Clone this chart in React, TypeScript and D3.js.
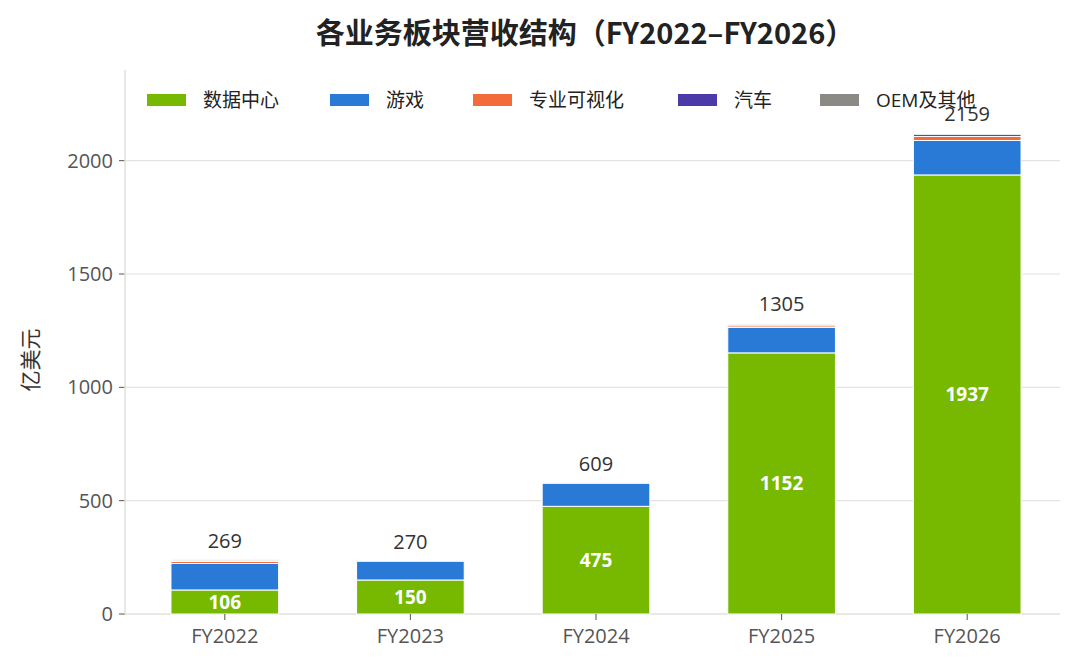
import * as d3 from "d3";

const years = ["FY2022", "FY2023", "FY2024", "FY2025", "FY2026"];
const seriesNames = ["数据中心", "游戏", "专业可视化", "汽车", "OEM及其他"];
const colors = ["#76b900", "#2979d6", "#f26b38", "#4b3aa8", "#8c8a84"];
const dataCenter = [106, 150, 475, 1152, 1937];
const gaming = [117, 84, 103, 113, 152];
const proViz = [9, 0.5, 0.5, 7, 18];
const auto = [2, 0.5, 0.5, 6, 10];
const oem = [5, 0.5, 0.5, 4, 3];
const totals = [269, 270, 609, 1305, 2159];
const yTicks = [0, 500, 1000, 1500, 2000];
const legendX = [147, 330, 473, 678, 820];

const F = "'Open Sans', 'Noto Sans CJK SC', sans-serif";

export default function App() {
  const W = 1080, H = 672;
  const x = d3.scaleBand().domain(years).range([132, 1060]).paddingInner(0.42).paddingOuter(0.21);
  const y = d3.scaleLinear().domain([0, 2400]).range([614, 70]);
  const rows = years.map((yr, i) => ({ yr, v: [dataCenter[i], gaming[i], proViz[i], auto[i], oem[i]] }));
  const stack = d3.stack<any>().keys([0, 1, 2, 3, 4].map(String)).value((d, k) => d.v[+k]);
  const layers = stack(rows);
  return (
    <svg width={W} height={H} style={{ position: "absolute", left: 0, top: 0 }} fontFamily={F}>
      <rect width={W} height={H} fill="#fff" />
      <text x={585} y={44} textAnchor="middle" fontSize={29} fontWeight="bold" fill="#222"
        fontFamily="'Noto Sans CJK SC', sans-serif">
        各业务板块营收结构（FY2022–FY2026）
      </text>
      {yTicks.map((t) => (
        <g key={t}>
          {t > 0 && <line x1={125} x2={1060} y1={y(t)} y2={y(t)} stroke="#e3e3e0" strokeWidth={1.2} />}
          <line x1={119} x2={125} y1={y(t)} y2={y(t)} stroke="#555" />
          <text x={113} y={y(t)} dy="0.35em" textAnchor="end" fontSize={20} fill="#555">{t}</text>
        </g>
      ))}
      <line x1={125} x2={125} y1={70} y2={614} stroke="#e0e0dc" strokeWidth={1.5} />
      <line x1={125} x2={1060} y1={614} y2={614} stroke="#e0e0dc" strokeWidth={1.5} />
      <text transform="translate(38,360) rotate(-90)" textAnchor="middle" fontSize={21} fill="#333"
        fontFamily="'Noto Sans CJK SC', sans-serif">亿美元</text>
      {layers.map((layer, li) =>
        layer.map((d, i) => (
          <rect key={li + "-" + i} x={x(years[i])!} width={x.bandwidth()} y={y(d[1])}
            height={Math.max(0, y(d[0]) - y(d[1]))} fill={colors[li]} stroke="#fff" strokeWidth={1} />
        ))
      )}
      {years.map((yr, i) => (
        <g key={yr}>
          <line x1={x(yr)! + x.bandwidth() / 2} x2={x(yr)! + x.bandwidth() / 2} y1={614} y2={620} stroke="#555" />
          <text x={x(yr)! + x.bandwidth() / 2} y={643} textAnchor="middle" fontSize={20} fill="#555">{yr}</text>
          <text x={x(yr)! + x.bandwidth() / 2} y={y(d3.sum(rows[i].v)) - 12} textAnchor="middle" fontSize={20} fill="#333">{totals[i]}</text>
          <text x={x(yr)! + x.bandwidth() / 2} y={y(dataCenter[i] / 2) + 7} textAnchor="middle" fontSize={19} fontWeight="bold" fill="#fff">{dataCenter[i]}</text>
        </g>
      ))}
      {seriesNames.map((n, i) => (
        <g key={n}>
          <rect x={legendX[i]} y={94} width={39} height={12} fill={colors[i]} />
          <text x={legendX[i] + 56} y={100} dy="0.35em" fontSize={19} fill="#222">{n}</text>
        </g>
      ))}
    </svg>
  );
}
